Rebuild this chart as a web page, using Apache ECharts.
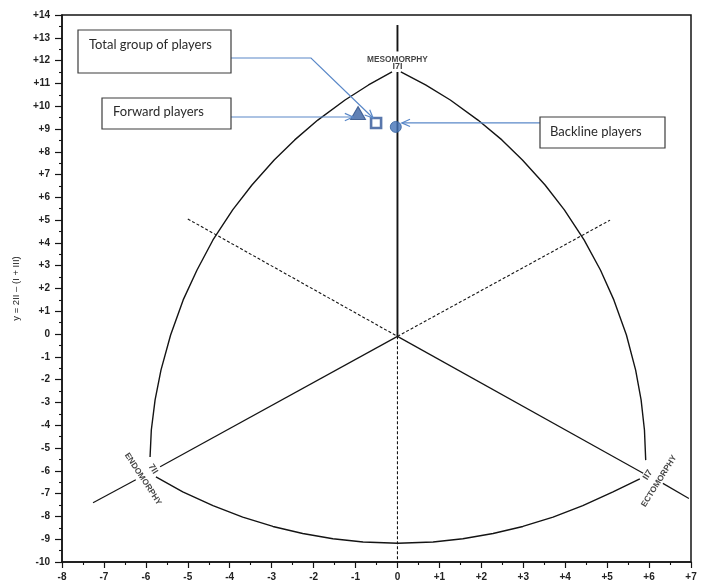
<!DOCTYPE html>
<html>
<head>
<meta charset="utf-8">
<script src="https://cdn.jsdelivr.net/npm/echarts@6/dist/echarts.min.js"></script>
<style>
  html, body { margin: 0; padding: 0; background: #fff; }
  #chart { width: 715px; height: 584px; }
</style>
</head>
<body>
<div id="chart"></div>
<script>
// Somatochart: x = III - I, y = 2II - (I + III)
const xTickLabels = ['-8', '-7', '-6', '-5', '-4', '-3', '-2', '-1', '0', '+1', '+2', '+3', '+4', '+5', '+6', '+7'];
const yTickLabels = ['-10', '-9', '-8', '-7', '-6', '-5', '-4', '-3', '-2', '-1', '0',
  '+1', '+2', '+3', '+4', '+5', '+6', '+7', '+8', '+9', '+10', '+11', '+12', '+13', '+14'];

// Outline of the chart (three curved sides)
const leftArc = [[-5.90, -5.39], [-5.87, -4.21], [-5.78, -2.89], [-5.64, -1.58], [-5.41, -0.04],
  [-5.11, 1.50], [-4.78, 2.81], [-4.40, 4.13], [-3.93, 5.45], [-3.47, 6.54], [-2.94, 7.64],
  [-2.45, 8.52], [-1.90, 9.39], [-1.25, 10.27], [-0.69, 10.93], [-0.13, 11.50]];
const rightArc = [[0.08, 11.50], [0.67, 10.93], [1.26, 10.27], [1.92, 9.39], [2.49, 8.52],
  [2.98, 7.64], [3.52, 6.54], [3.98, 5.45], [4.45, 4.13], [4.84, 2.81], [5.16, 1.50],
  [5.46, -0.04], [5.68, -1.58], [5.81, -2.89], [5.89, -4.21], [5.92, -5.53]];
const bottomArc = [[-5.76, -6.27], [-5.12, -6.92], [-4.40, -7.53], [-3.69, -8.03], [-2.97, -8.44],
  [-2.26, -8.75], [-1.54, -8.98], [-0.82, -9.12], [0.01, -9.18], [0.85, -9.12], [1.56, -8.98],
  [2.28, -8.75], [2.99, -8.44], [3.71, -8.03], [4.42, -7.53], [5.14, -6.92], [5.78, -6.35]];

// Straight axes of the chart
const centre = [0, -0.1];
const solidSegments = [
  [[0, 13.56], [0, 12.4]],
  [[0, 11.5], centre],
  [centre, [-5.66, -5.82]],
  [[-6.24, -6.39], [-7.26, -7.40]],
  [centre, [5.86, -6.11]],
  [[6.33, -6.55], [6.95, -7.21]]
];
const dashedSegments = [
  [[-5.0, 5.05], centre],
  [centre, [5.07, 5.0]],
  [centre, [0, -10]]
];

// Pole labels: [x, y, text, rotation]
const poleLabels = [
  [0, 12.05, 'MESOMORPHY', 0],
  [0, 11.75, 'I7I', 0],
  [-6.07, -6.36, 'ENDOMORPHY', -57],
  [-5.83, -5.92, '7II', -57],
  [6.24, -6.45, 'ECTOMORPHY', 58],
  [5.97, -6.18, 'II7', 58]
];

// Mean somatoplots
const totalGroup = [[-0.51, 9.26]];
const forwardPlayers = [[-0.94, 9.70]];
const backlinePlayers = [[-0.04, 9.09]];

const calloutTexts = ['Total group of players', 'Forward players', 'Backline players'];

const INK = '#141414';
const BLUE = '#5a88c8';

const series = [];
[leftArc, rightArc, bottomArc].forEach(function (arc) {
  series.push({
    type: 'line', data: arc, symbol: 'none', silent: true,
    lineStyle: { color: INK, width: 1.4 }, z: 2
  });
});
solidSegments.forEach(function (seg, i) {
  series.push({
    type: 'line', data: seg, symbol: 'none', silent: true,
    lineStyle: { color: INK, width: i < 2 ? 1.9 : 1.2 }, z: 2
  });
});
dashedSegments.forEach(function (seg) {
  series.push({
    type: 'line', data: seg, symbol: 'none', silent: true,
    lineStyle: { color: INK, width: 1.1, type: [3, 2] }, z: 2
  });
});
series.push({
  type: 'scatter', silent: true, symbolSize: 1,
  itemStyle: { color: 'rgba(0,0,0,0)' },
  data: poleLabels.map(function (p) {
    return {
      value: [p[0], p[1]], name: p[2],
      label: { rotate: p[3], fontSize: p[2].length > 3 ? 8.3 : 9 }
    };
  }),
  label: {
    show: true, position: 'inside', color: '#111',
    fontFamily: 'Liberation Sans', fontWeight: 'bold', fontSize: 8.5,
    formatter: function (p) { return p.name; }
  },
  z: 3
});

series.push({
  type: 'scatter', data: totalGroup, symbol: 'rect', symbolSize: 10, z: 6,
  itemStyle: { color: '#ffffff', borderColor: '#2f5597', borderWidth: 2.6 }
});
series.push({
  type: 'scatter', data: forwardPlayers, symbol: 'triangle', symbolSize: [15, 13], z: 6,
  itemStyle: { color: '#3a62a2', borderColor: '#2a4c84', borderWidth: 1 }
});
series.push({
  type: 'scatter', data: backlinePlayers, symbol: 'circle', symbolSize: 11, z: 6,
  itemStyle: { color: '#4272b6', borderColor: '#32609f', borderWidth: 1 }
});

const axisFont = { fontFamily: 'Liberation Sans', fontSize: 10, fontWeight: 'bold', color: '#222' };

const chart = echarts.init(document.getElementById('chart'), null, { renderer: 'canvas' });
chart.setOption({
  animation: false,
  backgroundColor: '#ffffff',
  grid: { left: 62, right: 24, top: 15, bottom: 22, show: true, borderColor: INK, borderWidth: 1.5 },
  xAxis: {
    type: 'value', min: -8, max: 7, interval: 1,
    axisLine: { onZero: false, lineStyle: { color: INK, width: 1.5 } },
    axisTick: { length: 6, lineStyle: { color: INK, width: 1.2 } },
    minorTick: { show: true, splitNumber: 2, length: 3, lineStyle: { color: INK, width: 1.1 } },
    splitLine: { show: false },
    axisLabel: Object.assign({ margin: 10, formatter: function (v) { return xTickLabels[Math.round(v) + 8]; } }, axisFont)
  },
  yAxis: {
    type: 'value', min: -10, max: 14, interval: 1,
    name: 'y = 2II \u2013 (I + III)', nameLocation: 'middle', nameGap: 41, nameRotate: 90,
    nameTextStyle: { fontFamily: 'Liberation Sans', fontSize: 9.5, color: '#222' },
    axisLine: { onZero: false, lineStyle: { color: INK, width: 1.5 } },
    axisTick: { length: 7, lineStyle: { color: INK, width: 1.2 } },
    minorTick: { show: true, splitNumber: 2, length: 3, lineStyle: { color: INK, width: 1.1 } },
    splitLine: { show: false },
    axisLabel: Object.assign({ margin: 12, formatter: function (v) { return yTickLabels[Math.round(v) + 10]; } }, axisFont)
  },
  series: series
});

// Callout boxes with arrows pointing at the plotted means
function px(pt) { return chart.convertToPixel({ gridIndex: 0 }, pt); }
function arrowHead(from, tip) {
  const a = Math.atan2(tip[1] - from[1], tip[0] - from[0]);
  const L = 9, s = 0.42;
  return [
    [tip[0] - L * Math.cos(a - s), tip[1] - L * Math.sin(a - s)],
    tip,
    [tip[0] - L * Math.cos(a + s), tip[1] - L * Math.sin(a + s)]
  ];
}
function box(x, y, w, h, text, tx, ty) {
  return [
    { type: 'rect', shape: { x: x, y: y, width: w, height: h }, z: 10,
      style: { fill: '#ffffff', stroke: '#3c3c3c', lineWidth: 1.2 } },
    { type: 'text', x: tx, y: ty, z: 11,
      style: { text: text, fill: '#2a2a2a', font: '13px Lato', textVerticalAlign: 'middle' } }
  ];
}
function arrow(points) {
  const n = points.length;
  return [
    { type: 'polyline', shape: { points: points }, z: 9, style: { stroke: BLUE, lineWidth: 1.2, fill: null } },
    { type: 'polyline', shape: { points: arrowHead(points[n - 2], points[n - 1]) }, z: 9,
      style: { stroke: BLUE, lineWidth: 1.2, fill: null } }
  ];
}

const sq = px(totalGroup[0]);
const tri = px(forwardPlayers[0]);
const cir = px(backlinePlayers[0]);
const tipTotal = [sq[0] - 3, sq[1] - 5];
const tipForward = [tri[0] - 5, tri[1] + 4];
const tipBack = [cir[0] + 6, cir[1] - 4];

let g = [];
g = g.concat(arrow([[231, 58], [311, 58], tipTotal]));
g = g.concat(arrow([[231, tipForward[1]], tipForward]));
g = g.concat(arrow([[540, tipBack[1]], tipBack]));
g = g.concat(box(78, 30, 153, 43, calloutTexts[0], 89, 45));
g = g.concat(box(102, 98, 129, 31, calloutTexts[1], 113, 112));
g = g.concat(box(540, 117, 125, 31, calloutTexts[2], 550, 132));
chart.setOption({ graphic: g });
</script>
</body>
</html>
